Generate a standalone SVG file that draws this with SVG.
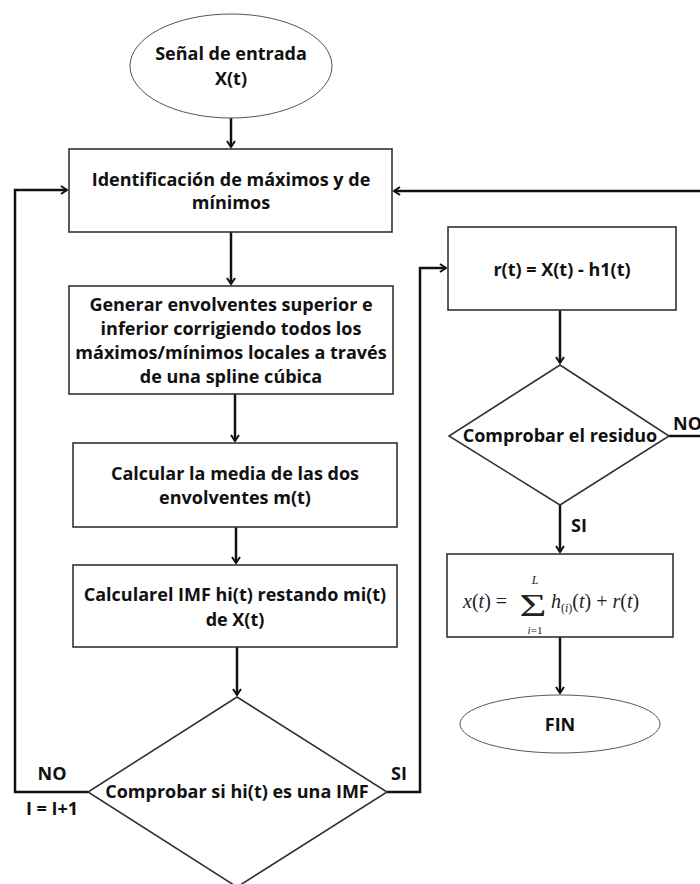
<svg xmlns="http://www.w3.org/2000/svg" width="700" height="884" viewBox="0 0 700 884">
<defs>
<style>
.t{font-family:"Open Sans","Liberation Sans",sans-serif;font-weight:700;font-size:18px;fill:#111;text-anchor:middle}
.box{fill:#fff;stroke:#333;stroke-width:1.6}
.ell{fill:#fff;stroke:#555;stroke-width:1}
.c{fill:none;stroke:#111;stroke-width:2.5}
.m{font-family:"Liberation Serif","DejaVu Serif",serif;fill:#222}
</style>
<marker id="ah" markerWidth="10" markerHeight="10" refX="8" refY="5" orient="auto" markerUnits="userSpaceOnUse">
<path d="M2,1 L8,5 L2,9" fill="none" stroke="#111" stroke-width="2"/>
</marker>
</defs>
<rect width="700" height="884" fill="#fff"/>

<g id="connectors">
<line class="c" x1="231" y1="118" x2="231" y2="147" marker-end="url(#ah)"/>
<line class="c" x1="231" y1="232" x2="231" y2="284" marker-end="url(#ah)"/>
<line class="c" x1="235" y1="394" x2="235" y2="441" marker-end="url(#ah)"/>
<line class="c" x1="236" y1="527" x2="236" y2="563" marker-end="url(#ah)"/>
<line class="c" x1="237" y1="647" x2="237" y2="695" marker-end="url(#ah)"/>
<polyline class="c" points="88,792 15,792 15,190 67,190" marker-end="url(#ah)"/>
<polyline class="c" points="387,792 420,792 420,268 446,268" marker-end="url(#ah)"/>
<line class="c" x1="700" y1="191" x2="394" y2="191" marker-end="url(#ah)"/>
<line class="c" x1="560" y1="310" x2="560" y2="363" marker-end="url(#ah)"/>
<line class="c" x1="669" y1="436" x2="700" y2="436"/>
<line class="c" x1="560" y1="505" x2="560" y2="552" marker-end="url(#ah)"/>
<line class="c" x1="560" y1="637" x2="560" y2="693" marker-end="url(#ah)"/>
<text class="t" x="52" y="780">NO</text>
<text class="t" x="52" y="815">I = I+1</text>
<text class="t" x="399" y="780">SI</text>
<text class="t" x="673" y="430" style="text-anchor:start">NO</text>
<text class="t" x="571" y="532" style="text-anchor:start">SI</text>
</g>

<g id="start">
<ellipse class="ell" cx="231" cy="66" rx="101" ry="52"/>
<text class="t" x="231" y="60">Señal de entrada</text>
<text class="t" x="231" y="85">X(t)</text>
</g>

<g id="identificacion">
<rect class="box" x="69" y="149" width="323" height="83"/>
<text class="t" x="231" y="186">Identificación de máximos y de</text>
<text class="t" x="231" y="209">mínimos</text>
</g>

<g id="generar">
<rect class="box" x="69" y="286" width="324" height="108"/>
<text class="t" x="231" y="311">Generar envolventes superior e</text>
<text class="t" x="231" y="335">inferior corrigiendo todos los</text>
<text class="t" x="231" y="359">máximos/mínimos locales a través</text>
<text class="t" x="231" y="383">de una spline cúbica</text>
</g>

<g id="media">
<rect class="box" x="73" y="443" width="324" height="84"/>
<text class="t" x="235" y="480">Calcular la media de las dos</text>
<text class="t" x="235" y="504">envolventes m(t)</text>
</g>

<g id="imf">
<rect class="box" x="73" y="565" width="324" height="82"/>
<text class="t" x="235" y="601">Calcularel IMF hi(t) restando mi(t)</text>
<text class="t" x="235" y="626">de X(t)</text>
</g>

<g id="comprobar-imf">
<polygon class="box" points="237,697 387,792 237,887 88,792"/>
<text class="t" x="237" y="798">Comprobar si hi(t) es una IMF</text>
</g>

<g id="residuo-calc">
<rect class="box" x="448" y="227" width="228" height="83"/>
<text class="t" x="562" y="276">r(t) = X(t) - h1(t)</text>
</g>

<g id="comprobar-residuo">
<polygon class="box" points="560,365 669,436 560,505 449,436"/>
<text class="t" x="560" y="442">Comprobar el residuo</text>
</g>

<g id="formula">
<rect class="box" x="447" y="554" width="226" height="83"/>
<text class="m" x="463" y="608" font-size="20"><tspan font-style="italic">x</tspan>(<tspan font-style="italic">t</tspan>) =</text>
<text class="m" font-size="32" text-anchor="middle" transform="translate(533,616) scale(1.45,1)">Σ</text>
<text class="m" x="535" y="584" font-size="12" font-style="italic" text-anchor="middle">L</text>
<text class="m" x="535" y="634" font-size="11" text-anchor="middle"><tspan font-style="italic">i</tspan>=1</text>
<text class="m" x="551" y="608" font-size="20"><tspan font-style="italic">h</tspan><tspan font-size="12" dy="4">(<tspan font-style="italic">i</tspan>)</tspan><tspan dy="-4">(<tspan font-style="italic">t</tspan>) + <tspan font-style="italic">r</tspan>(<tspan font-style="italic">t</tspan>)</tspan></text>
</g>

<g id="fin">
<ellipse class="ell" cx="560" cy="724" rx="100" ry="29"/>
<text class="t" x="560" y="731">FIN</text>
</g>
</svg>
